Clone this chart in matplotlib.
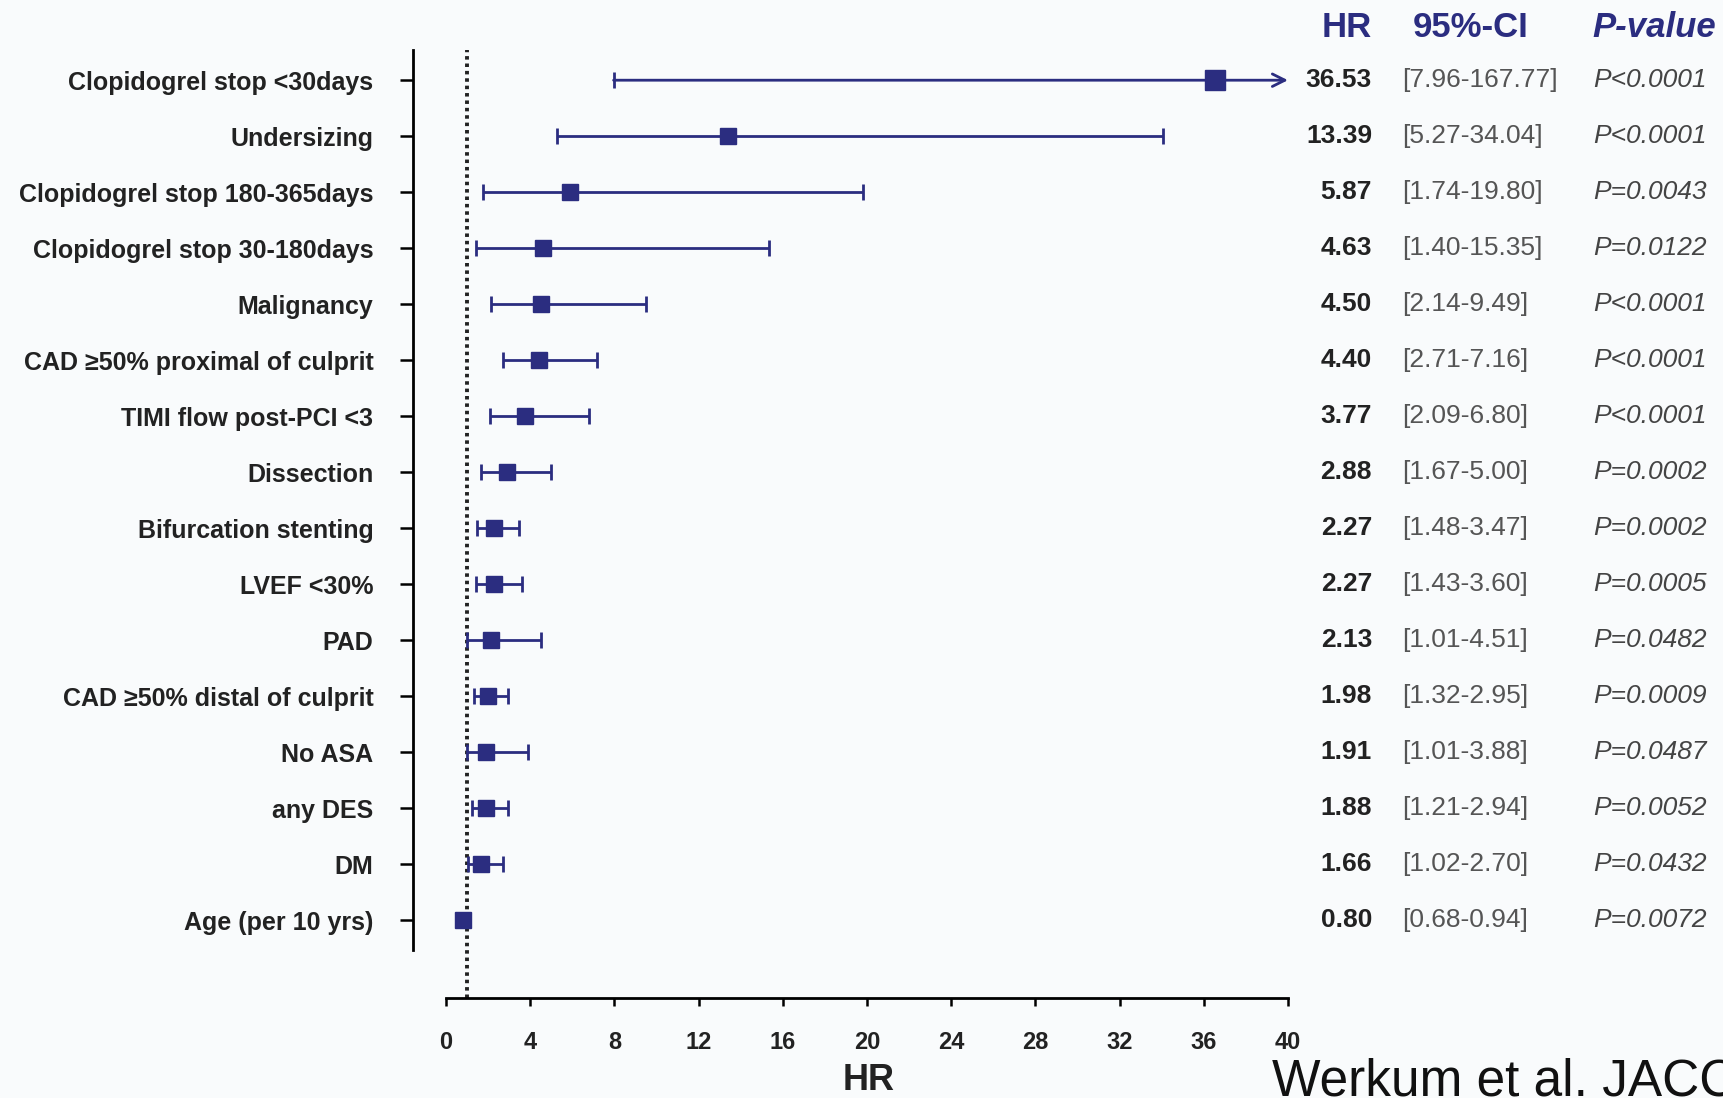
import matplotlib
matplotlib.use('Agg')
from matplotlib import pyplot as plt
from matplotlib import transforms

labels = ['Clopidogrel stop <30days', 'Undersizing', 'Clopidogrel stop 180-365days',
          'Clopidogrel stop 30-180days', 'Malignancy', 'CAD \u226550% proximal of culprit',
          'TIMI flow post-PCI <3', 'Dissection', 'Bifurcation stenting', 'LVEF <30%', 'PAD',
          'CAD \u226550% distal of culprit', 'No ASA', 'any DES', 'DM', 'Age (per 10 yrs)']
hr = [36.53, 13.39, 5.87, 4.63, 4.50, 4.40, 3.77, 2.88, 2.27, 2.27, 2.13, 1.98, 1.91, 1.88, 1.66, 0.80]
ci_low = [7.96, 5.27, 1.74, 1.40, 2.14, 2.71, 2.09, 1.67, 1.48, 1.43, 1.01, 1.32, 1.01, 1.21, 1.02, 0.68]
ci_high = [167.77, 34.04, 19.80, 15.35, 9.49, 7.16, 6.80, 5.00, 3.47, 3.60, 4.51, 2.95, 3.88, 2.94, 2.70, 0.94]
p_values = ['P<0.0001', 'P<0.0001', 'P=0.0043', 'P=0.0122', 'P<0.0001', 'P<0.0001', 'P<0.0001',
            'P=0.0002', 'P=0.0002', 'P=0.0005', 'P=0.0482', 'P=0.0009', 'P=0.0487', 'P=0.0052',
            'P=0.0432', 'P=0.0072']
x_ticks = list(range(0, 41, 4))
x_max = 40

plt.rcParams['font.family'] = ['Liberation Sans', 'DejaVu Sans']

navy = '#2b2d80'
bg = '#f9fbfc'

fig = plt.figure(figsize=(17.23, 10.98), dpi=100, facecolor=bg)
ax = fig.add_axes([0.2397, 0.0911, 0.7475 - 0.2397, 0.9549 - 0.0911])
ax.set_facecolor(bg)

rows = list(range(len(labels)))

# reference line at HR = 1
ax.axvline(1, color='#222222', lw=2.8, ls=(0, (0.9, 1.0)), zorder=1)

for i in rows:
    if ci_high[i] > x_max:
        ax.annotate('', xy=(x_max, i), xytext=(ci_low[i], i), annotation_clip=False,
                    arrowprops=dict(arrowstyle='->,head_length=0.9,head_width=0.45',
                                    color=navy, lw=2.0, shrinkA=0, shrinkB=0), zorder=3)
        ax.plot(ci_low[i], i, marker='|', ms=11, mew=2.0, color=navy, zorder=3)
        ax.plot(hr[i], i, marker='s', ms=14, color=navy, zorder=4)
    else:
        ax.errorbar(hr[i], i, xerr=[[hr[i] - ci_low[i]], [ci_high[i] - hr[i]]], fmt='s',
                    ms=11, color=navy, ecolor=navy, elinewidth=2.0, capsize=5.5, capthick=2.0,
                    zorder=3)

ax.set_xlim(-1.57, x_max)
ax.set_ylim(16.39, -0.548)

ax.spines['top'].set_visible(False)
ax.spines['right'].set_visible(False)
ax.spines['left'].set_linewidth(2.0)
ax.spines['bottom'].set_linewidth(2.0)
ax.spines['left'].set_bounds(-0.548, 15.54)
ax.spines['bottom'].set_bounds(0, x_max)

ax.set_yticks(rows)
ax.set_yticklabels(labels, fontsize=18, fontweight='bold', color='#222222')
ax.tick_params(axis='y', direction='out', length=9.5, width=1.8, pad=19)
ax.set_xticks(x_ticks)
ax.set_xticklabels([str(t) for t in x_ticks], fontsize=17, fontweight='bold', color='#222222')
ax.tick_params(axis='x', direction='out', length=6, width=1.8, pad=18)

# right-hand table
tr = transforms.blended_transform_factory(fig.transFigure, ax.transData)
for i in rows:
    ax.text(0.7963, i, f'{hr[i]:.2f}', transform=tr, ha='right', va='center',
            fontsize=19, fontweight='bold', color='#222222')
    ax.text(0.8137, i, f'[{ci_low[i]:.2f}-{ci_high[i]:.2f}]', transform=tr, ha='left',
            va='center', fontsize=19, color='#555555')
    ax.text(0.9246, i, p_values[i], transform=tr, ha='left', va='center',
            fontsize=19, style='italic', color='#444444')

fig.text(0.7963, 0.9745, 'HR', ha='right', va='center', fontsize=25, fontweight='bold', color=navy)
fig.text(0.820, 0.9745, '95%-CI', ha='left', va='center', fontsize=25, fontweight='bold', color=navy)
fig.text(0.924, 0.9745, 'P-value', ha='left', va='center', fontsize=25, fontweight='bold',
         style='italic', color=navy)

fig.text(0.504, 0.016, 'HR', ha='center', va='center', fontsize=26, fontweight='bold', color='#222222')
fig.text(0.738, 0.002, 'Werkum et al. JACC', ha='left', va='baseline', fontsize=37, color='#111111')

fig.savefig('out.png', dpi=100, facecolor=bg)
